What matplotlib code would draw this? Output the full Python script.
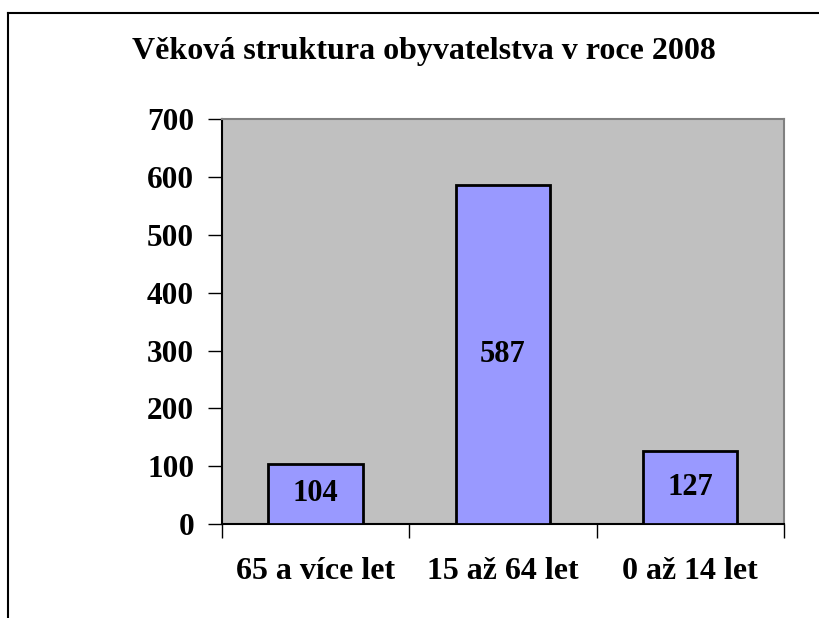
import matplotlib.pyplot as plt
from matplotlib.lines import Line2D

plt.rcParams['font.family'] = ['Liberation Serif', 'DejaVu Serif']
plt.rcParams['font.weight'] = 'bold'

kategorie = ['65 a více let', '15 až 64 let', '0 až 14 let']
hodnoty = [104, 587, 127]
y_ticks = [0, 100, 200, 300, 400, 500, 600, 700]

fig = plt.figure(figsize=(8.19, 6.18), dpi=100)
ax = fig.add_axes([0.271, 0.152, 0.686, 0.655])
ax.set_facecolor('#C0C0C0')

x = range(len(kategorie))
bars = ax.bar(x, hodnoty, width=0.505, color='#9999FF', edgecolor='black', linewidth=2, zorder=3)
for b, v in zip(bars, hodnoty):
    ax.text(b.get_x() + b.get_width() / 2, v / 2, str(v), ha='center', va='center',
            fontsize=22, fontweight='bold', zorder=4)

ax.set_xlim(-0.5, 2.5)
ax.set_ylim(0, 700)
ax.set_yticks(y_ticks)
ax.set_yticklabels([str(t) for t in y_ticks], fontsize=22.5, fontweight='bold')
ax.tick_params(axis='y', direction='out', length=10, width=1, pad=10)

# kategorie: ticky na hranicich, popisky uprostred
ax.set_xticks([-0.5, 0.5, 1.5, 2.5])
ax.set_xticklabels([])
ax.set_xticks(list(x), minor=True)
ax.set_xticklabels(kategorie, minor=True, fontsize=23, fontweight='bold')
ax.tick_params(axis='x', which='major', direction='out', length=10, width=1)
ax.tick_params(axis='x', which='minor', length=0, pad=24)

ax.spines['left'].set_color('black')
ax.spines['bottom'].set_color('black')
ax.spines['top'].set_color('#808080')
ax.spines['right'].set_color('#808080')
for s in ax.spines.values():
    s.set_linewidth(1.5)

fig.text(0.518, 1 - 59 / 618, 'Věková struktura obyvatelstva v roce 2008', ha='center', va='baseline',
         fontsize=23, fontweight='bold')

# ramecek grafu
fig.add_artist(Line2D([8 / 819, 8 / 819], [0, 1 - 13 / 618], color='black', lw=1.5))
fig.add_artist(Line2D([8 / 819, 1], [1 - 13 / 618, 1 - 13 / 618], color='black', lw=1.5))

fig.savefig('out.png', dpi=100)
